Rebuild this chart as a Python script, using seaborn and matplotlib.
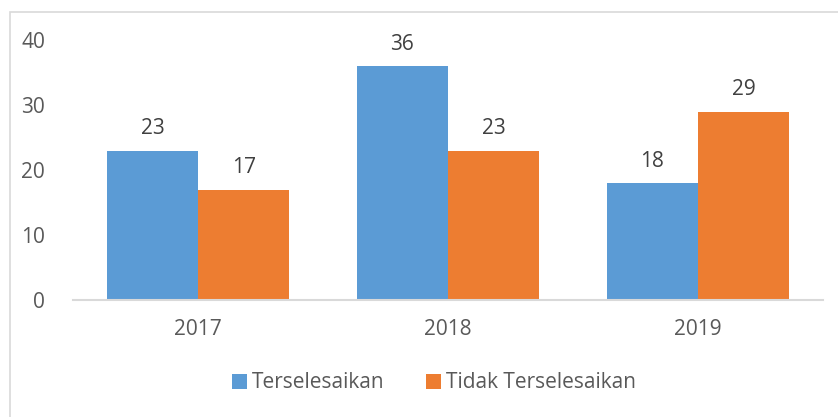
"""
Grafik jumlah kasus terselesaikan vs tidak terselesaikan per tahun
"""

import pandas as pd
import matplotlib
matplotlib.use('Agg')
import matplotlib.pyplot as plt
import seaborn as sns
from matplotlib.patches import Rectangle

# data
tahun = ['2017', '2018', '2019']
terselesaikan = [23, 36, 18]
tidak_terselesaikan = [17, 23, 29]
seri = ['Terselesaikan', 'Tidak Terselesaikan']
warna = ['#5B9BD5', '#ED7D31']

df = pd.DataFrame({
    'Tahun': tahun * 2,
    'Status': [seri[0]] * len(tahun) + [seri[1]] * len(tahun),
    'Jumlah': terselesaikan + tidak_terselesaikan,
})

sns.set_style('white')
plt.rcParams['font.family'] = ['Open Sans', 'DejaVu Sans']
teks = '#595959'
ukuran = 15

fig = plt.figure(figsize=(8.38, 4.17), dpi=100)
ax = fig.add_axes([73 / 838, 117 / 417, 750 / 838, 260 / 417])

sns.barplot(data=df, x='Tahun', y='Jumlah', hue='Status', palette=warna,
            width=0.73, gap=0, saturation=1, linewidth=0, ax=ax, legend=True)

for cont in ax.containers:
    ax.bar_label(cont, padding=8, fontsize=ukuran, color='#404040')

ax.set_ylim(0, 40)
ax.set_yticks([0, 10, 20, 30, 40])
ax.set_xlim(-0.5, 2.5)
ax.set_xlabel('')
ax.set_ylabel('')
ax.tick_params(axis='both', length=0, labelsize=ukuran, labelcolor=teks)
ax.tick_params(axis='y', pad=20)
ax.tick_params(axis='x', pad=14)

for s in ['top', 'right', 'left']:
    ax.spines[s].set_visible(False)
ax.spines['bottom'].set_color('#D9D9D9')
ax.spines['bottom'].set_linewidth(1.5)

# legend di bawah
ax.legend(loc='center', bbox_to_anchor=(434 / 838, 34 / 417),
          bbox_transform=fig.transFigure, ncol=2, frameon=False,
          fontsize=ukuran, labelcolor=teks, handlelength=0.7, handleheight=0.7,
          handletextpad=0.25, columnspacing=2.0)

# bingkai chart (kanan & bawah terpotong)
fig.patches.append(Rectangle((10 / 838, -0.1), 1.2, (417 - 12) / 417 + 0.1,
                             transform=fig.transFigure, fill=False,
                             edgecolor='#D9D9D9', linewidth=1.2))

plt.savefig('out.png', dpi=100)
